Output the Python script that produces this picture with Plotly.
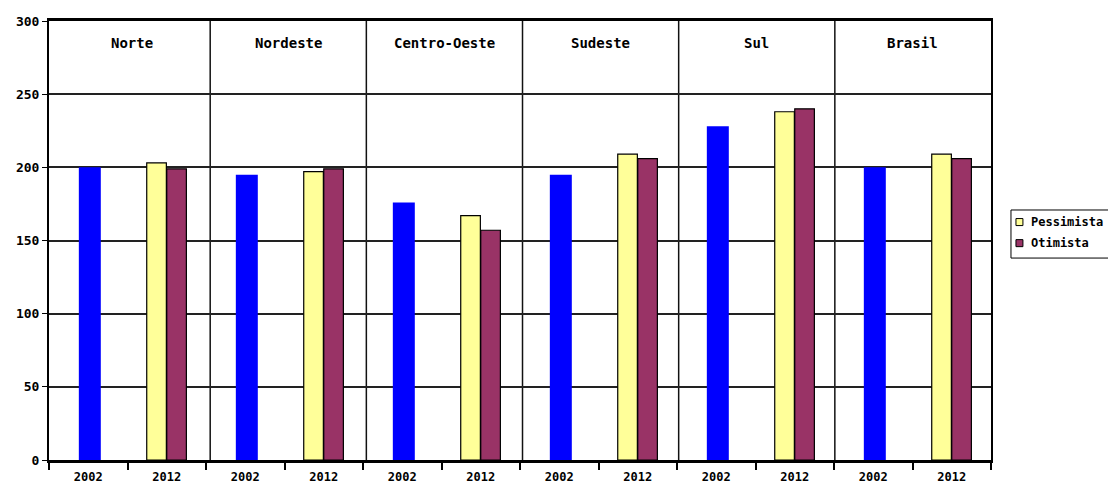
import plotly.graph_objects as go

regions = ["Norte", "Nordeste", "Centro-Oeste", "Sudeste", "Sul", "Brasil"]
tick_labels = ["2002", "2012"] * 6
valores_2002 = [200, 195, 176, 195, 228, 200]
pessimista_2012 = [203, 197, 167, 209, 238, 209]
otimista_2012 = [199, 199, 157, 206, 240, 206]
legend_names = ["Pessimista", "Otimista"]

FONT = "DejaVu Sans Mono"
BLUE = "#0000FF"
YELLOW = "#FFFF99"
PURPLE = "#993366"

x2002 = [2 * i for i in range(len(regions))]
x2012 = [2 * i + 1 for i in range(len(regions))]

fig = go.Figure()
fig.add_trace(go.Bar(x=x2002, y=valores_2002, width=0.28, offset=-0.12,
                     marker=dict(color=BLUE, line=dict(width=0)), showlegend=False))
fig.add_trace(go.Bar(x=x2012, y=pessimista_2012, width=0.25, offset=-0.255, name=legend_names[0],
                     marker=dict(color=YELLOW, line=dict(color="black", width=1.2)), showlegend=False))
fig.add_trace(go.Bar(x=x2012, y=otimista_2012, width=0.25, offset=0.0, name=legend_names[1],
                     marker=dict(color=PURPLE, line=dict(color="black", width=1.2)), showlegend=False))

# header table cells (slightly inset from the axis, as in the original)
t0 = -0.436
cell = (11.5 - t0) / len(regions)
shapes = []
for k in range(1, len(regions)):
    xs = t0 + k * cell
    shapes.append(dict(type="line", xref="x", yref="y", x0=xs, x1=xs, y0=0, y1=300,
                       line=dict(color="#111", width=1.5), layer="below"))
annotations = []
for k, r in enumerate(regions):
    annotations.append(dict(x=t0 + (k + 0.5) * cell, y=285, xref="x", yref="y", text=r, showarrow=False,
                            font=dict(family=FONT, size=14, color="black", weight="bold")))

# manual legend (box partly cut by the right edge, as in the original)
lx0, lx1 = 1.0212, 1.2
ly0, ly1 = 0.460, 0.5695
shapes.append(dict(type="rect", xref="paper", yref="paper", x0=lx0, x1=lx1, y0=ly0, y1=ly1,
                   line=dict(color="black", width=1), fillcolor="white"))
row_y = [0.542, 0.494]
for nm, col, yc in zip(legend_names, [YELLOW, PURPLE], row_y):
    shapes.append(dict(type="rect", xref="paper", yref="paper", x0=1.0265, x1=1.0339,
                       y0=yc - 0.008, y1=yc + 0.008, line=dict(color="black", width=1), fillcolor=col))
    annotations.append(dict(x=1.0405, y=yc, xref="paper", yref="paper", text=nm, showarrow=False,
                            xanchor="left", yanchor="middle",
                            font=dict(family=FONT, size=12, color="black", weight="bold")))

fig.update_layout(
    width=1108, height=486,
    margin=dict(l=49, r=117, t=21, b=26),
    paper_bgcolor="white", plot_bgcolor="white",
    barmode="overlay",
    shapes=shapes, annotations=annotations,
    showlegend=False,
)
fig.update_xaxes(
    range=[-0.5, 11.5], tickvals=list(range(12)), ticktext=tick_labels, ticks="",
    ticklabelstandoff=4, automargin=False,
    tickfont=dict(family=FONT, size=12, color="black", weight="bold"),
    showgrid=False, showline=True, linecolor="black", linewidth=2.5, mirror=True, zeroline=False,
    minor=dict(tickvals=[i - 0.5 for i in range(13)], ticks="outside", ticklen=7, tickcolor="black",
               tickwidth=1.5, showgrid=False),
)
fig.update_yaxes(
    range=[0, 300], tickvals=[0, 50, 100, 150, 200, 250, 300], ticks="outside", ticklen=5, tickcolor="black",
    automargin=False,
    tickfont=dict(family=FONT, size=13, color="black", weight="bold"),
    showgrid=True, gridcolor="#222", gridwidth=1.5, showline=True, linecolor="black", linewidth=2, mirror=True,
    zeroline=False,
)

fig.write_html("out.html")
